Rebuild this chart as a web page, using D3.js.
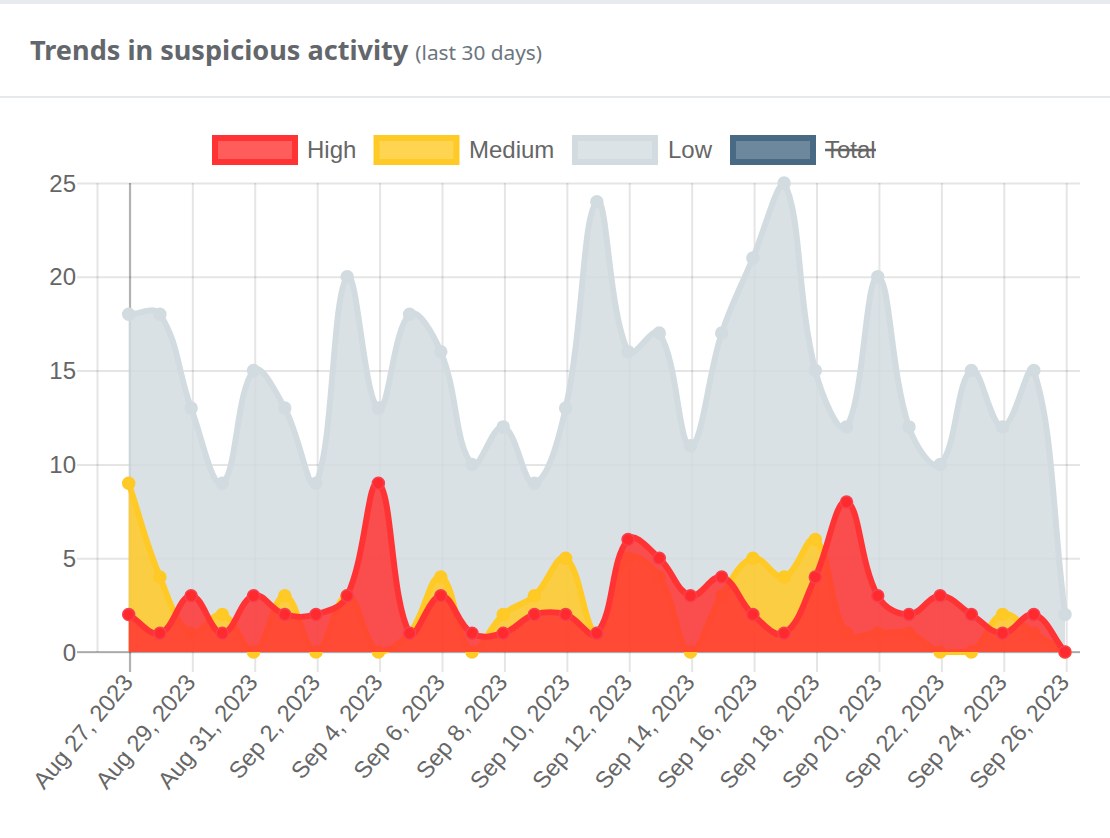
<!DOCTYPE html>
<html>
<head>
<meta charset="utf-8">
<title>Trends in suspicious activity</title>
<script src="https://cdn.jsdelivr.net/npm/d3@7/dist/d3.min.js"></script>
<style>
  html, body { margin: 0; padding: 0; background: #fff; }
  svg { display: block; }
  .tick-label, .legend-label { font-family: "Liberation Sans", Arial, sans-serif; fill: #666; }
  .head { font-family: "Noto Sans", sans-serif; }
</style>
</head>
<body>
<svg id="chart" width="1110" height="838"></svg>
<script>
// day by day values, Aug 27 -> Sep 26
var high   = [2,1,3,1,3,2,2,3,9,1,3,1,1,2,2,1,6,5,3,4,2,1,4,8,3,2,3,2,1,2,0];
var medium = [9,4,1,2,0,3,0,3,0,1,4,0,2,3,5,1,5,4,0,3,5,4,6,1,1,1,0,0,2,1,0];
var low    = [18,18,13,9,15,13,9,20,13,18,16,10,12,9,13,24,16,17,11,17,21,25,15,12,20,12,10,15,12,15,2];

var firstDay = "2023-08-27";
var lastDay = "2023-09-26";
var yTicks = [0,5,10,15,20,25];
var xTickLabels = ["Aug 27, 2023","Aug 29, 2023","Aug 31, 2023","Sep 2, 2023","Sep 4, 2023","Sep 6, 2023",
  "Sep 8, 2023","Sep 10, 2023","Sep 12, 2023","Sep 14, 2023","Sep 16, 2023","Sep 18, 2023",
  "Sep 20, 2023","Sep 22, 2023","Sep 24, 2023","Sep 26, 2023"];

var legendNames = ["High","Medium","Low","Total"];
var legendHidden = ["Total"];
var legendColors = { High: "#ff3333", Medium: "#ffc926", Low: "#d2dce0", Total: "#486a85" };

var parseDay = d3.utcParse("%Y-%m-%d");
var parseLabel = d3.utcParse("%b %e, %Y");
var fmtLabel = d3.utcFormat("%b %-d, %Y");
var days = d3.utcDay.range(parseDay(firstDay), d3.utcDay.offset(parseDay(lastDay), 1));
var xTickDates = xTickLabels.map(function(s) { return parseLabel(s); });

var plot = { left: 97.5, right: 1080, top: 183, bottom: 652 };
var svg = d3.select("#chart");

// header bits
svg.append("rect").attr("width",1110).attr("height",4).attr("fill","#e8ebee");
svg.append("rect").attr("y",96).attr("width",1110).attr("height",2).attr("fill","#e7eaec");
var head = svg.append("text").attr("class","head").attr("x",30).attr("y",60);
head.append("tspan").attr("font-size",27.1).attr("font-weight",700).attr("fill","#63676b").text("Trends in suspicious activity");
head.append("tspan").attr("dx",7).attr("font-size",20.8).attr("fill","#6c757d").text("(last 30 days)");

// scales, Aug 26 sits on the left edge of the plot
var x = d3.scaleUtc()
  .domain([d3.utcDay.offset(parseDay(firstDay), -1), parseDay(lastDay)])
  .range([plot.left, 1065]);
var y = d3.scaleLinear().domain([0,25]).range([plot.bottom, plot.top]);

// axes
var yAxis = d3.axisLeft(y).tickValues(yTicks).tickSize(0).tickPadding(0);
var gy = svg.append("g").attr("transform","translate(76,0)").call(yAxis);
gy.select(".domain").remove();
gy.selectAll("line")
  .attr("x1",1).attr("x2",plot.right-76)
  .attr("stroke","rgba(0,0,0,0.1)").attr("stroke-width",2);
gy.selectAll("text").attr("class","tick-label").attr("font-size",24).attr("dy","0.34em").attr("x",0);

var xAxis = d3.axisBottom(x).tickValues(xTickDates).tickSize(0).tickFormat(fmtLabel);
var gx = svg.append("g").attr("transform","translate(0,"+plot.bottom+")").call(xAxis);
gx.select(".domain").remove();
// the vertical grid sits a touch right of the points in the original
gx.selectAll("line")
  .attr("x1",1.2).attr("x2",1.2)
  .attr("y1",plot.top-plot.bottom).attr("y2",20)
  .attr("stroke","rgba(0,0,0,0.1)").attr("stroke-width",2);
gx.selectAll("text").attr("class","tick-label").attr("font-size",23.6)
  .attr("text-anchor","end").attr("dy",0).attr("y",0)
  .attr("transform","translate(5,31) rotate(-50)");

// left edge of the grid + the two darker zero lines
svg.append("line").attr("x1",plot.left).attr("x2",plot.left).attr("y1",plot.top).attr("y2",plot.bottom)
  .attr("stroke","rgba(0,0,0,0.1)").attr("stroke-width",2);
svg.append("line").attr("x1",77).attr("x2",plot.right).attr("y1",y(0)).attr("y2",y(0))
  .attr("stroke","rgba(0,0,0,0.25)").attr("stroke-width",2);
svg.append("line").attr("x1",x(days[0])+1.2).attr("x2",x(days[0])+1.2).attr("y1",plot.top).attr("y2",672)
  .attr("stroke","rgba(0,0,0,0.25)").attr("stroke-width",2);

function clamp(v, lo, hi) { return Math.max(lo, Math.min(hi, v)); }

// same bezier spline the original chart uses (tension .4, control points kept inside the plot)
function splinePath(values, closeToBase) {
  var pts = values.map(function(v, i) { return [x(days[i]), y(v)]; });
  var cps = pts.map(function(p, i) {
    var a = pts[i-1] || p, b = pts[i+1] || p;
    var d01 = Math.hypot(p[0]-a[0], p[1]-a[1]);
    var d12 = Math.hypot(b[0]-p[0], b[1]-p[1]);
    var sum = (d01+d12) || 1;
    var fa = 0.4*d01/sum, fb = 0.4*d12/sum;
    return {
      px: clamp(p[0]-fa*(b[0]-a[0]), plot.left, plot.right),
      py: clamp(p[1]-fa*(b[1]-a[1]), plot.top, plot.bottom),
      nx: clamp(p[0]+fb*(b[0]-a[0]), plot.left, plot.right),
      ny: clamp(p[1]+fb*(b[1]-a[1]), plot.top, plot.bottom)
    };
  });
  var path = d3.path();
  path.moveTo(pts[0][0], pts[0][1]);
  for (var i = 1; i < pts.length; i++) {
    path.bezierCurveTo(cps[i-1].nx, cps[i-1].ny, cps[i].px, cps[i].py, pts[i][0], pts[i][1]);
  }
  if (closeToBase) {
    path.lineTo(pts[pts.length-1][0], y(0));
    path.lineTo(pts[0][0], y(0));
    path.closePath();
  }
  return path.toString();
}

function drawSeries(values, color, dotFill, dotStroke) {
  var g = svg.append("g");
  g.append("path").attr("d", splinePath(values, true)).attr("fill", color).attr("fill-opacity", 0.85);
  g.append("path").attr("d", splinePath(values, false)).attr("fill","none")
    .attr("stroke", color).attr("stroke-width", 6);
  g.selectAll("circle").data(values).join("circle")
    .attr("cx", function(d, i) { return x(days[i]); })
    .attr("cy", function(d) { return y(d); })
    .attr("r", 6)
    .attr("fill", dotFill)
    .attr("stroke", dotStroke)
    .attr("stroke-width", 1.5);
}

// back to front, like the original
drawSeries(low, legendColors.Low, "#d2dce0", "#d2dce0");
drawSeries(medium, legendColors.Medium, "#ffc926", "#ffc926");
drawSeries(high, legendColors.High, "#ff2a2e", "#f7404f");

// legend
var legendX = { High: 212, Medium: 373.5, Low: 572, Total: 730 };
var legendTextX = { High: 307, Medium: 469, Low: 668, Total: 825 };
var lg = svg.append("g").selectAll("g").data(legendNames).join("g");
lg.append("rect")
  .attr("x", function(d) { return legendX[d]+3; }).attr("y",138)
  .attr("width",80).attr("height",24)
  .attr("fill", function(d) { return legendColors[d]; }).attr("fill-opacity",0.8)
  .attr("stroke", function(d) { return legendColors[d]; }).attr("stroke-width",6);
lg.append("text").attr("class","legend-label")
  .attr("x", function(d) { return legendTextX[d]; }).attr("y",158)
  .attr("font-size",24)
  .text(function(d) { return d; });
lg.filter(function(d) { return legendHidden.indexOf(d) >= 0; }).append("line")
  .attr("x1", function(d) { return legendTextX[d]; }).attr("x2",876)
  .attr("y1",150).attr("y2",150)
  .attr("stroke","#666").attr("stroke-width",2.5);
</script>
</body>
</html>
